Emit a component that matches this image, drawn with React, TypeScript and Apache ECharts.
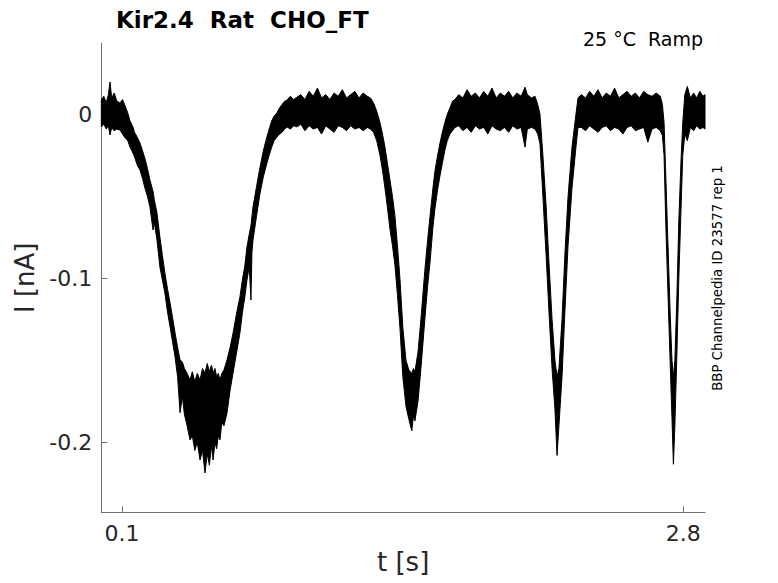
import React, { useEffect, useRef } from "react";
import * as echarts from "echarts";

// Noisy current trace, read as [time s, upper edge nA, lower edge nA] per segment
const startAndDip1 = [
  [0, 0.0087, -0.0077], [0.012, 0.011, -0.006], [0.024, 0.007, -0.009], [0.034, 0.012, -0.007],
  [0.042, 0.0197, -0.0126], [0.05, 0.01, -0.008], [0.062, 0.013, -0.01], [0.075, 0.008, -0.009],
  [0.09, 0.0069, -0.0096], [0.102, 0.009, -0.012], [0.115, 0.005, -0.0145], [0.127, 0.001, -0.016],
  [0.138, -0.004, -0.0199], [0.15, -0.007, -0.023], [0.16, -0.011, -0.026], [0.173, -0.014, -0.031],
  [0.186, -0.0175, -0.034], [0.198, -0.022, -0.039], [0.21, -0.027, -0.045], [0.222, -0.033, -0.05],
  [0.234, -0.0401, -0.0565], [0.249, -0.047, -0.0705], [0.255, -0.052, -0.066], [0.268, -0.0602, -0.0767],
  [0.282, -0.0748, -0.0931], [0.294, -0.086, -0.101], [0.306, -0.0968, -0.109], [0.318, -0.106, -0.12],
  [0.331, -0.1151, -0.1297], [0.343, -0.124, -0.139], [0.355, -0.1334, -0.148], [0.367, -0.142, -0.16],
  [0.379, -0.1498, -0.182], [0.39, -0.151, -0.172], [0.4, -0.155, -0.183], [0.413, -0.158, -0.19],
  [0.427, -0.162, -0.1986], [0.438, -0.157, -0.196], [0.45, -0.163, -0.205], [0.462, -0.158, -0.2],
  [0.475, -0.162, -0.2108], [0.487, -0.155, -0.205], [0.499, -0.1577, -0.2187], [0.51, -0.152, -0.207],
  [0.52, -0.157, -0.214], [0.53, -0.153, -0.202], [0.538, -0.1577, -0.2108], [0.547, -0.155, -0.2],
  [0.555, -0.16, -0.204], [0.563, -0.158, -0.196], [0.571, -0.162, -0.1986], [0.58, -0.158, -0.188],
  [0.59, -0.156, -0.19], [0.605, -0.1498, -0.1821], [0.62, -0.142, -0.168], [0.634, -0.1334, -0.1577],
  [0.65, -0.122, -0.146], [0.667, -0.1114, -0.1334], [0.68, -0.1, -0.12], [0.69, -0.093, -0.112],
  [0.701, -0.0809, -0.1011], [0.712, -0.073, -0.093], [0.72, -0.068, -0.1133], [0.725, -0.062, -0.084],
  [0.73, -0.0565, -0.0767], [0.747, -0.044, -0.062], [0.764, -0.0321, -0.048], [0.78, -0.022, -0.038],
  [0.797, -0.0138, -0.0297], [0.81, -0.008, -0.024], [0.82, -0.004, -0.02], [0.832, -0.001, -0.016],
  [0.845, 0.0008, -0.0138], [0.858, 0.004, -0.012], [0.87, 0.006, -0.011], [0.882, 0.008, -0.009],
  [0.894, 0.0087, -0.0077], [0.91, 0.011, -0.009], [0.926, 0.009, -0.007], [0.942, 0.0105, -0.0077],
];

const plateau1 = [
  [0.96, 0.012, -0.006], [0.98, 0.009, -0.01], [1.0, 0.014, -0.007], [1.02, 0.011, -0.009],
  [1.04, 0.016, -0.008], [1.06, 0.01, -0.012], [1.08, 0.012, -0.007], [1.1, 0.009, -0.009],
  [1.12, 0.013, -0.011], [1.14, 0.011, -0.007], [1.16, 0.015, -0.008], [1.18, 0.01, -0.01],
  [1.2, 0.012, -0.007], [1.22, 0.014, -0.009], [1.24, 0.01, -0.008], [1.26, 0.013, -0.01],
  [1.28, 0.011, -0.008], [1.295, 0.01, -0.009],
];

const dip2 = [
  [1.31, 0.007, -0.011], [1.325, 0.002, -0.016], [1.341, -0.005, -0.025], [1.353, -0.012, -0.034],
  [1.365, -0.02, -0.045], [1.377, -0.03, -0.057], [1.389, -0.04, -0.07], [1.401, -0.05, -0.08],
  [1.413, -0.062, -0.092], [1.425, -0.08, -0.11], [1.437, -0.1, -0.13], [1.451, -0.13, -0.16],
  [1.466, -0.15, -0.178], [1.48, -0.156, -0.186], [1.494, -0.158, -0.193], [1.502, -0.155, -0.184],
  [1.509, -0.157, -0.187], [1.524, -0.145, -0.175], [1.538, -0.125, -0.155], [1.557, -0.095, -0.125],
  [1.57, -0.077, -0.105], [1.582, -0.062, -0.09], [1.595, -0.046, -0.07], [1.605, -0.035, -0.058],
  [1.617, -0.026, -0.047], [1.629, -0.018, -0.038], [1.641, -0.011, -0.03], [1.653, -0.005, -0.022],
  [1.665, 0.0, -0.016], [1.678, 0.004, -0.012], [1.69, 0.008, -0.01], [1.702, 0.009, -0.008],
];

const plateau2 = [
  [1.72, 0.012, -0.007], [1.74, 0.01, -0.01], [1.76, 0.015, -0.008], [1.78, 0.011, -0.011],
  [1.8, 0.013, -0.007], [1.82, 0.01, -0.009], [1.84, 0.014, -0.008], [1.86, 0.011, -0.012],
  [1.88, 0.016, -0.007], [1.9, 0.01, -0.009], [1.92, 0.013, -0.01], [1.94, 0.011, -0.008],
  [1.96, 0.014, -0.011], [1.98, 0.01, -0.007], [2.0, 0.013, -0.009], [2.02, 0.011, -0.008],
  [2.039, 0.0165, -0.02], [2.05, 0.012, -0.009], [2.07, 0.01, -0.008], [2.087, 0.011, -0.009],
];

const dip3 = [
  [2.1, 0.006, -0.012], [2.111, 0.0, -0.018], [2.125, -0.025, -0.05], [2.14, -0.055, -0.085],
  [2.154, -0.09, -0.12], [2.169, -0.125, -0.155], [2.183, -0.15, -0.18], [2.193, -0.16, -0.208],
  [2.202, -0.155, -0.19], [2.217, -0.125, -0.16], [2.231, -0.085, -0.12], [2.246, -0.05, -0.08],
  [2.265, -0.02, -0.045], [2.284, 0.0, -0.02], [2.294, 0.01, -0.008],
];

const plateau3 = [
  [2.31, 0.012, -0.008], [2.33, 0.01, -0.01], [2.35, 0.014, -0.007], [2.37, 0.011, -0.009],
  [2.39, 0.015, -0.011], [2.41, 0.01, -0.008], [2.43, 0.013, -0.007], [2.45, 0.011, -0.01],
  [2.47, 0.016, -0.008], [2.49, 0.01, -0.009], [2.51, 0.012, -0.012], [2.53, 0.014, -0.008],
  [2.55, 0.011, -0.007], [2.57, 0.013, -0.01], [2.59, 0.01, -0.009], [2.61, 0.014, -0.008],
  [2.63, 0.012, -0.017], [2.65, 0.011, -0.009], [2.67, 0.013, -0.008], [2.69, 0.011, -0.01],
];

const dip4 = [
  [2.7, 0.006, -0.013], [2.708, -0.005, -0.025], [2.717, -0.04, -0.07], [2.727, -0.08, -0.11],
  [2.737, -0.12, -0.15], [2.746, -0.15, -0.185], [2.753, -0.16, -0.2134], [2.76, -0.15, -0.19],
  [2.77, -0.11, -0.145], [2.779, -0.065, -0.1], [2.789, -0.03, -0.06], [2.798, -0.005, -0.025],
  [2.808, 0.012, -0.012],
];

const plateau4 = [
  [2.82, 0.017, -0.016], [2.835, 0.01, -0.008], [2.85, 0.013, -0.01], [2.865, 0.01, -0.007],
  [2.88, 0.014, -0.009], [2.895, 0.011, -0.008], [2.905, 0.012, -0.009],
];

const xTicks = [0.1, 2.8];
const xTickLabels = ["0.1", "2.8"];
const yTicks = [-0.2, -0.1, 0];
const yTickLabels = ["-0.2", "-0.1", "0"];

const titleText = "Kir2.4  Rat  CHO_FT";
const conditionText = "25 °C  Ramp";
const sourceText = "BBP Channelpedia ID 23577 rep 1";
const xName = "t [s]";
const yName = "I [nA]";

const FONT = "DejaVu Sans";
const AXIS_COLOR = "#707070";
const TEXT_COLOR = "#262626";

export default function App() {
  const ref = useRef<HTMLDivElement>(null);

  useEffect(() => {
    if (!ref.current) return;
    const chart = echarts.init(ref.current, undefined, { renderer: "svg" });
    const trace = [
      ...startAndDip1, ...plateau1, ...dip2, ...plateau2,
      ...dip3, ...plateau3, ...dip4, ...plateau4,
    ];

    const tickFormatter = (ticks: number[], labels: string[]) => (v: number) => {
      const i = ticks.findIndex((t) => Math.abs(t - v) < 1e-9);
      return i >= 0 ? labels[i] : "";
    };

    chart.setOption({
      animation: false,
      backgroundColor: "#ffffff",
      grid: { left: 101.3, right: 73, top: 43.3, bottom: 70.7, containLabel: false },
      xAxis: {
        type: "value",
        min: 0,
        max: 2.905,
        name: xName,
        nameLocation: "middle",
        nameGap: 37,
        nameTextStyle: { fontFamily: FONT, fontSize: 26, color: TEXT_COLOR },
        axisLine: { show: true, onZero: false, lineStyle: { color: AXIS_COLOR, width: 1 } },
        axisTick: {
          show: true,
          inside: true,
          length: 6,
          customValues: xTicks,
          lineStyle: { color: AXIS_COLOR, width: 1 },
        },
        axisLabel: {
          customValues: xTicks,
          margin: 10,
          fontFamily: FONT,
          fontSize: 22,
          color: TEXT_COLOR,
          formatter: tickFormatter(xTicks, xTickLabels),
        },
        splitLine: { show: false },
      },
      yAxis: {
        type: "value",
        min: -0.2427,
        max: 0.0433,
        name: yName,
        nameLocation: "middle",
        nameGap: 57,
        nameTextStyle: { fontFamily: FONT, fontSize: 26, color: TEXT_COLOR },
        axisLine: { show: true, onZero: false, lineStyle: { color: AXIS_COLOR, width: 1 } },
        axisTick: {
          show: true,
          inside: true,
          length: 6,
          customValues: yTicks,
          lineStyle: { color: AXIS_COLOR, width: 1 },
        },
        axisLabel: {
          customValues: yTicks,
          margin: 9,
          fontFamily: FONT,
          fontSize: 22,
          color: TEXT_COLOR,
          formatter: tickFormatter(yTicks, yTickLabels),
        },
        splitLine: { show: false },
      },
      graphic: [
        {
          type: "text",
          left: 116,
          top: 8,
          style: {
            text: titleText,
            fontFamily: FONT,
            fontSize: 23,
            fontWeight: "bold",
            fill: "#000000",
          },
        },
        {
          type: "text",
          right: 75,
          top: 29,
          style: {
            text: conditionText,
            fontFamily: FONT,
            fontSize: 19,
            fill: "#000000",
          },
        },
        {
          type: "text",
          x: 717.5,
          y: 278,
          rotation: Math.PI / 2,
          style: {
            text: sourceText,
            fontFamily: FONT,
            fontSize: 13.3,
            fill: "#000000",
            align: "center",
            verticalAlign: "middle",
          },
        },
      ],
      series: [
        {
          type: "custom",
          coordinateSystem: "cartesian2d",
          encode: { x: 0, y: [1, 2] },
          data: trace,
          renderItem: (params: any, api: any) => {
            if (params.dataIndex !== 0) return null;
            const pts: number[][] = [];
            for (let i = 0; i < trace.length; i++) pts.push(api.coord([trace[i][0], trace[i][1]]));
            for (let i = trace.length - 1; i >= 0; i--) pts.push(api.coord([trace[i][0], trace[i][2]]));
            return {
              type: "polygon",
              shape: { points: pts },
              style: { fill: "#000000", stroke: "#000000", lineWidth: 1, lineJoin: "miter" },
            };
          },
        },
      ],
    });

    return () => chart.dispose();
  }, []);

  return (
    <div
      ref={ref}
      style={{ position: "fixed", left: 0, top: 0, width: 778, height: 583, background: "#fff" }}
    />
  );
}
